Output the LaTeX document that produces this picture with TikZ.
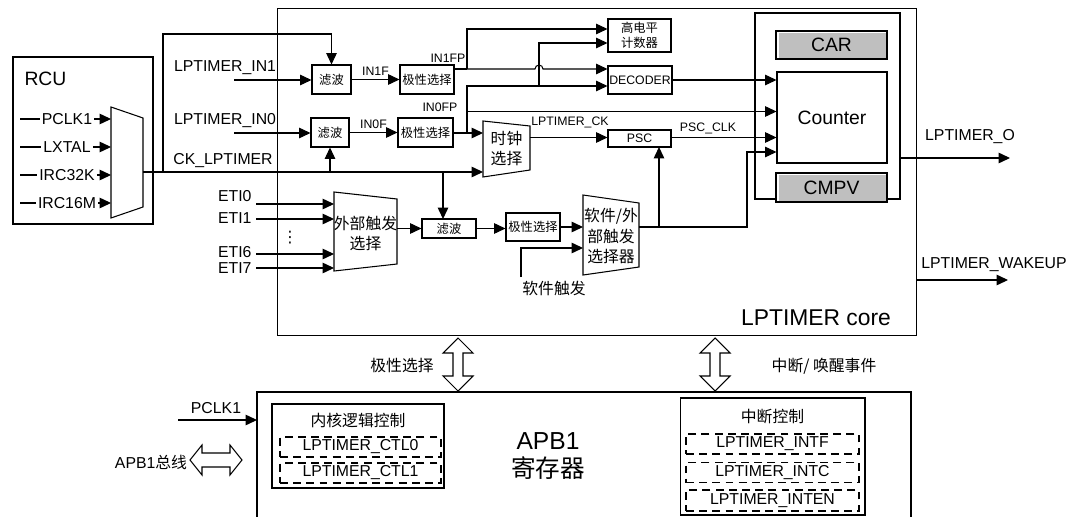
\documentclass[tikz,border=0pt]{standalone}
\usepackage{fontspec}
\setmainfont{Liberation Sans}
\newfontfamily\cjk{Noto Sans CJK SC}
\newfontfamily\symf{DejaVu Sans}
\usetikzlibrary{arrows.meta}

\tikzset{
  blk/.style={draw, fill=white, inner sep=0pt, align=center},
  regbox/.style={draw, dash pattern=on 4.5pt off 3pt, inner sep=0pt,
    minimum height=0.4cm, font=\fontsize{9}{10}\selectfont},
  arr/.style={-{Triangle[length=6.5pt,width=6pt]}},
  lbl/.style={inner sep=1pt, font=\fontsize{9}{10}\selectfont},
  sml/.style={inner sep=0pt, font=\fontsize{7}{8.5}\selectfont},
  mid/.style={inner sep=0pt, align=center, font=\fontsize{9}{11.4}\selectfont},
  big/.style={inner sep=0pt, font=\fontsize{11}{13}\selectfont},
}

\begin{document}
\begin{tikzpicture}[x=0.02cm, y=-0.02cm, line width=0.6pt]
\useasboundingbox (0,0) rectangle (1078,517);

% --- RCU ---
\node[draw, minimum width=2.8cm, minimum height=3.34cm] (rcu) at (83,140.5) {};
\node[big, anchor=west] (rcut) at (24,79) {RCU};
\draw (111,107) -- (143,118) -- (143,207) -- (111,218) -- cycle;
\coordinate (rcuo) at (143,172);
\foreach \nm/\y in {PCLK1/119, LXTAL/147, IRC32K/175, IRC16M/203} {
    \node[lbl] (src\nm) at (67,\y) {\nm};
    \draw (20,\y) -- (src\nm.west);
    \draw[arr] (src\nm.east) -- (111,\y);
}

% --- LPTIMER core ---
\node[draw, minimum width=12.8cm, minimum height=6.56cm] (core) at (597,172) {};
\node[inner sep=0pt, font=\fontsize{13}{15}\selectfont] (coret) at (816,318) {LPTIMER core};

% --- input filters and polarity ---
\node[blk, sml, minimum width=0.78cm, minimum height=0.58cm] (flt1) at (331.5,79.5) {\cjk 滤波};
\node[blk, sml, minimum width=1.08cm, minimum height=0.58cm] (pol1) at (427,79.5) {\cjk 极性选择};
\node[blk, sml, minimum width=0.76cm, minimum height=0.58cm] (flt0) at (330,132.5) {\cjk 滤波};
\node[blk, sml, minimum width=1.1cm, minimum height=0.58cm] (pol0) at (425.5,132.5) {\cjk 极性选择};

\node[lbl] (in1) at (225,68) {LPTIMER\_IN1};
\node[lbl] (in0) at (225,121) {LPTIMER\_IN0};
\node[lbl] (ckl) at (223,161) {CK\_LPTIMER};
\coordinate (in1s) at (234,80);
\coordinate (in0s) at (234,133);
\draw[arr] (in1s) -- (flt1.west |- in1s);
\draw[arr] (in0s) -- (flt0.west |- in0s);

\draw[arr] (flt1.east) -- (pol1.west) node[sml, midway, above=2pt] (in1f) {IN1F};
\draw[arr] (flt0.east) -- (pol0.west) node[sml, midway, above=2pt] (in0f) {IN0F};
\node[sml] (in1fp) at (448,58) {IN1FP};
\node[sml] (in0fp) at (440,107) {IN0FP};

% --- high level counter, decoder, psc ---
\node[blk, sml, minimum width=1.26cm, minimum height=0.66cm] (hcnt) at (639.5,35.5) {\cjk 高电平\\\cjk 计数器};
\node[blk, sml, minimum width=1.28cm, minimum height=0.56cm] (dec) at (640,80) {DECODER};
\node[blk, sml, minimum width=1.26cm, minimum height=0.34cm] (psc) at (639.5,138.5) {PSC};

% --- clock select mux ---
\draw (483,121) -- (530,126) -- (530,170) -- (483,177) -- cycle;
\node[mid] (clksel) at (506.5,149) {\cjk 时钟\\\cjk 选择};
\node[sml] (lck) at (570,122) {LPTIMER\_CK};
\node[sml] (pclk) at (708,128) {PSC\_CLK};

% --- counter block ---
\node[draw, minimum width=2.9cm, minimum height=3.72cm] (inner) at (827.5,106) {};
\node[draw, fill=white, minimum width=2.22cm, minimum height=0.56cm] (car) at (831.5,45) {};
\fill[gray!50] (779,33) rectangle (886,58);
\node[big] (cart) at (car) {CAR};
\node[blk, minimum width=2.2cm, minimum height=1.82cm, font=\fontsize{11}{13}\selectfont] (cnt) at (832,117.5) {Counter};
\node[draw, fill=white, minimum width=2.22cm, minimum height=0.58cm] (cmpv) at (831.5,187.5) {};
\fill[gray!50] (779,175) rectangle (886,201);
\node[big] (cmpvt) at (cmpv) {CMPV};

% --- IN1FP / IN0FP routing ---
\coordinate (j1) at (467,69);
\coordinate (j0) at (467,133);
\draw (pol1.east |- j1) -- (j1);
\draw[arr] (j1) -- (467,29) -- (hcnt.west |- 0,29);
\draw[arr] (j1) -- (535,69) arc[start angle=180, end angle=0, radius=0.08cm] -- (dec.west |- 0,69);
\draw[arr] (539,86) -- (539,43) -- (hcnt.west |- 0,43);
\draw[arr] (pol0.east |- j0) -- (483,133);
\draw[arr] (j0) -- (467,86) -- (dec.west |- 0,86);
\draw[arr] (467,111.5) -- (cnt.west |- 0,111.5);

% --- clock paths ---
\draw[arr] (rcuo) -- (483,172);
\draw[arr] (163,172) -- (163,34) -| (flt1.north);
\draw[arr] (flt0.south |- rcuo) -- (flt0.south);
\draw[arr] (530,137.5) -- (psc.west |- 0,137.5);
\draw[arr] (psc.east |- 0,137.5) -- (cnt.west |- 0,137.5);
\draw[arr] (dec.east) -- (cnt.west |- dec.east);

% --- external trigger ---
\foreach \k/\yl/\y in {0/196/204, 1/218/219, 6/252/254, 7/268/268} {
    \node[lbl, inner sep=0pt, anchor=east] (eti\k) at (252,\yl) {ETI\k};
    \draw[arr] (256,\y) -- (334,\y);
}
\node[inner sep=0pt, font=\fontsize{9}{10}\selectfont] (dots) at (290,238) {\symf ⋮};
\draw (334,192) -- (397,199) -- (397,264) -- (334,271) -- cycle;
\node[mid] (extsel) at (365.5,233) {\cjk 外部触发\\\cjk 选择};
\node[blk, sml, minimum width=1.08cm, minimum height=0.38cm] (fltE) at (449,228.5) {\cjk 滤波};
\node[blk, sml, minimum width=1.08cm, minimum height=0.56cm] (polE) at (533,227) {\cjk 极性选择};
\draw[arr] (397,228.5) -- (fltE.west);
\draw[arr] (443,172) -- (443,219);
\draw[arr] (fltE.east) -- (polE.west |- fltE.east);

\draw (583,195) -- (639,203) -- (639,267) -- (583,275) -- cycle;
\node[mid] (swsel) at (611,236) {\cjk 软件/外\\\cjk 部触发\\\cjk 选择器};
\draw[arr] (polE.east) -- (583,227);
\node[lbl, inner sep=0pt] (swtrg) at (554,288) {\cjk 软件触发};
\draw[arr] (521,277) -- (521,248) -- (583,248);
\coordinate (swo) at (639,227);
\draw[arr] (swo) -- (747,227) -- (747,152) -- (cnt.west |- 0,152);
\draw[arr] (659,227) -- (659,147);

% --- outputs ---
\draw[arr] (inner.east |- 0,158) -- (1010,158);
\node[lbl] (outo) at (970,137) {LPTIMER\_O};
\draw[arr] (core.east |- 0,280) -- (1008,280);
\node[lbl] (outw) at (994,265) {LPTIMER\_WAKEUP};

% --- core <-> APB1 ---
\foreach \x in {458,715} {
    \draw (\x,338) -- (\x+15,353) -- (\x+5,353) -- (\x+5,376) -- (\x+15,376) -- (\x,391)
      -- (\x-15,376) -- (\x-5,376) -- (\x-5,353) -- (\x-15,353) -- cycle;
}
\node[lbl, inner sep=0pt] (polsel) at (402,366) {\cjk 极性选择};
\node[lbl, inner sep=0pt] (intev) at (824,366) {\cjk 中断/ 唤醒事件};

% --- APB1 registers ---
\draw (257,530) -- (257,392) -- (911,392) -- (911,530);
\node[inner sep=0pt, align=center, font=\fontsize{14}{16}\selectfont] (apbt) at (548,456) {APB1\\\cjk 寄存器};
\coordinate (pclk1s) at (178,420);
\draw[arr] (pclk1s) -- (257,420);
\node[lbl] (pclk1) at (216,408) {PCLK1};
\node[lbl, inner sep=0pt] (apbbus) at (151,462) {APB1{\cjk 总线}};
\draw (190,460) -- (202,445) -- (202,453) -- (230,453) -- (230,445) -- (242,460)
  -- (230,475) -- (230,467) -- (202,467) -- (202,475) -- cycle;

\node[draw, minimum width=3.44cm, minimum height=1.68cm] (ctlbox) at (358,446) {};
\node[lbl] (ctlt) at (358,420) {\cjk 内核逻辑控制};
\node[regbox, minimum width=3.22cm] (ctl0) at (360.5,447) {LPTIMER\_CTL0};
\node[regbox, minimum width=3.22cm] (ctl1) at (360.5,473) {LPTIMER\_CTL1};

\node[draw, minimum width=3.7cm, minimum height=2.34cm] (intbox) at (772.5,456.5) {};
\node[lbl] (intt) at (772.5,417) {\cjk 中断控制};
\node[regbox, minimum width=3.46cm] (intf) at (772.5,444) {LPTIMER\_INTF};
\node[regbox, minimum width=3.46cm] (intc) at (772.5,472.5) {LPTIMER\_INTC};
\node[regbox, minimum width=3.46cm, minimum height=0.42cm] (inten) at (772.5,500.5) {LPTIMER\_INTEN};

\end{tikzpicture}
\end{document}
